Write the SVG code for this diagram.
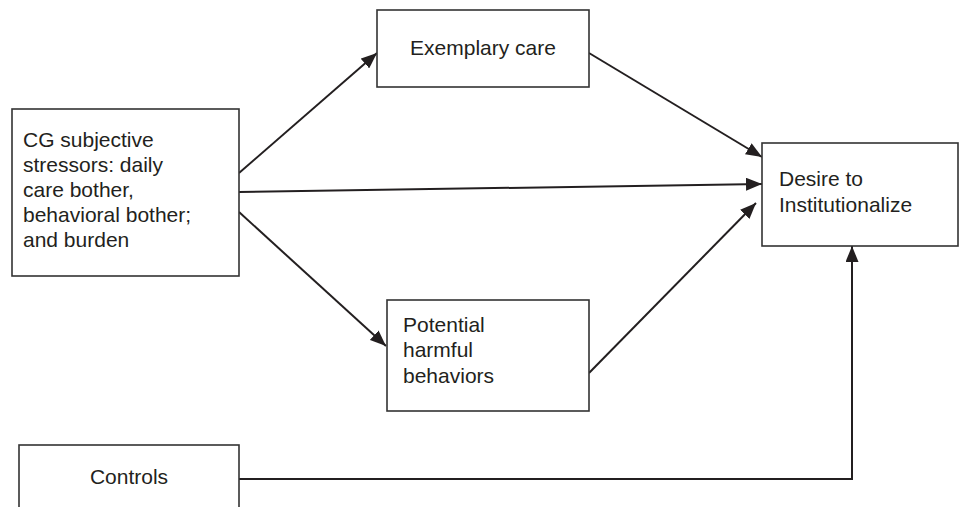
<svg xmlns="http://www.w3.org/2000/svg" width="961" height="507" viewBox="0 0 961 507">
<style>
.box{fill:#fff;stroke:#333;stroke-width:1.6}
.t{font-family:"Liberation Sans",Arial,sans-serif;font-size:21px;fill:#231f20}
.c{stroke:#231f20;stroke-width:2;fill:none}
</style>
<defs>
<marker id="ah" markerUnits="userSpaceOnUse" markerWidth="17" markerHeight="13" refX="16" refY="6.5" orient="auto">
<path d="M0,0 L16,6.5 L0,13 z" fill="#231f20"/>
</marker>
</defs>
<rect width="961" height="507" fill="#fff"/>
<g id="connectors">
<line class="c" x1="239" y1="173" x2="377" y2="53" marker-end="url(#ah)"/>
<line class="c" x1="239" y1="192" x2="762" y2="184" marker-end="url(#ah)"/>
<line class="c" x1="239" y1="212" x2="386" y2="346" marker-end="url(#ah)"/>
<line class="c" x1="589" y1="53" x2="762" y2="157" marker-end="url(#ah)"/>
<line class="c" x1="589" y1="373" x2="756" y2="203" marker-end="url(#ah)"/>
<polyline class="c" points="239,479 852,479 852,246" marker-end="url(#ah)"/>
</g>
<g id="cg">
<rect class="box" x="12" y="109" width="227" height="167"/>
<text class="t" x="23" y="147">CG subjective</text>
<text class="t" x="23" y="172">stressors: daily</text>
<text class="t" x="23" y="197">care bother,</text>
<text class="t" x="23" y="222">behavioral bother;</text>
<text class="t" x="23" y="247">and burden</text>
</g>
<g id="exemplary">
<rect class="box" x="377" y="10" width="212" height="77"/>
<text class="t" x="483" y="55" text-anchor="middle">Exemplary care</text>
</g>
<g id="harmful">
<rect class="box" x="387" y="300" width="202" height="111"/>
<text class="t" x="403" y="332">Potential</text>
<text class="t" x="403" y="357">harmful</text>
<text class="t" x="403" y="383">behaviors</text>
</g>
<g id="desire">
<rect class="box" x="762" y="143" width="196" height="103"/>
<text class="t" x="779" y="186">Desire to</text>
<text class="t" x="779" y="212">Institutionalize</text>
</g>
<g id="controls">
<rect class="box" x="19" y="445" width="220" height="80"/>
<text class="t" x="129" y="484" text-anchor="middle">Controls</text>
</g>
</svg>
